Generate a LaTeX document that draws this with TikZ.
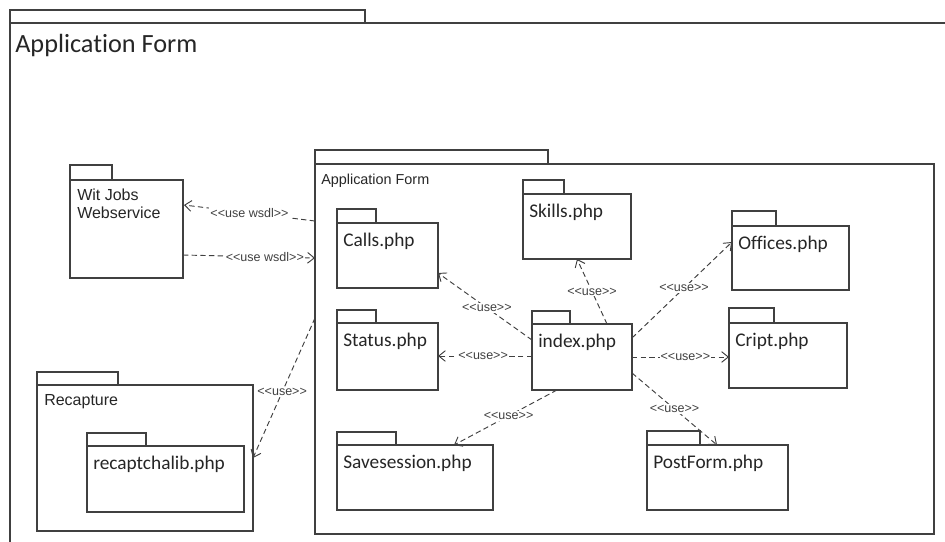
\documentclass[tikz,border=0pt]{standalone}
\usepackage{fontspec}
\setmainfont{Carlito}[Ligatures=NoCommon]
\newfontfamily\arialf{Liberation Sans}
\usetikzlibrary{arrows.meta,calc,fit}

% A UML package: tab rectangle plus a named body node and its title
% #1 name, #2 left x, #3 tab top, #4 tab right x, #5 body top, #6 right x, #7 bottom y, #8 title
\newcommand\umlpkg[8]{%
  \draw[pkgline] (#2,#3) rectangle (#4,#5);
  \node[pkgbody, fit={(#2,#5)(#6,#7)}] (#1) {};
  \node[pkgtext] at ($(#1.north west)+(6,23)$) {#8};
}

\begin{document}
\begin{tikzpicture}[x=0.75pt,y=-0.75pt,
  pkgline/.style={draw=black!75, line width=0.9pt},
  pkgbody/.style={pkgline, inner sep=0pt, outer sep=0pt},
  pkgtext/.style={anchor=base west, inner sep=0pt, text=black!85,
    font=\fontsize{14.5}{17}\selectfont},
  sanstext/.style={anchor=base west, inner sep=0pt, text=black!85,
    font=\arialf\fontsize{12}{13.5}\selectfont},
  usedep/.style={draw=black!75, line width=0.7pt, dash pattern=on 4pt off 2.5pt,
    -{Straight Barb[length=5pt,width=8pt]}},
  uselabel/.style={fill=white, inner sep=0.8pt, text=black!75,
    font=\arialf\fontsize{9.4}{10}\selectfont}]

\fill[white] (0,0) rectangle (945,542);
\useasboundingbox (0,0) rectangle (945,542);

% outer package frame (runs off the page to the right and bottom)
\draw[pkgline] (10,10) rectangle (365,23);
\draw[pkgline] (945,23) -- (10,23) -- (10,542);
\node[anchor=base west, inner sep=0pt, text=black!85,
  font=\fontsize{19.7}{22}\selectfont] (outertitle) at (15,53) {Application Form};

% inner Application Form package
\draw[pkgline] (315,150) rectangle (548,164);
\node[pkgbody, fit={(315,164)(934,534)}] (appf) {};
\node[sanstext, font=\arialf\fontsize{10.8}{12}\selectfont] (appftitle) at (321,184) {Application Form};

% Wit Jobs Webservice
\draw[pkgline] (70,165) rectangle (112,180);
\node[pkgbody, fit={(70,180)(183,278)}] (wit) {};
\node[sanstext] (wittitle) at (77,200) {Wit Jobs};
\node[sanstext] (wittitleb) at (77,218) {Webservice};

% Recapture with recaptchalib.php inside
\draw[pkgline] (37,372) rectangle (118,385);
\node[pkgbody, fit={(37,385)(253,531)}] (recap) {};
\node[sanstext] (recaptitle) at (44,405) {Recapture};
\umlpkg{recaptcha}{87}{433}{146}{446}{244}{512}{recaptchalib.php}

% the PHP files of the application
\umlpkg{calls}{337}{209}{376}{223}{438}{288}{Calls.php}
\umlpkg{status}{337}{310}{376}{323}{438}{390}{Status.php}
\umlpkg{skills}{523}{180}{564}{194}{631}{259}{Skills.php}
\umlpkg{index}{532}{311}{570}{324}{632}{390}{index.php}
\umlpkg{offices}{732}{211}{776}{226}{849}{290}{Offices.php}
\umlpkg{cript}{729}{308}{774}{323}{847}{388}{Cript.php}
\umlpkg{postform}{647}{431}{700}{445}{788}{510}{PostForm.php}
\umlpkg{savesession}{337}{432}{396}{445}{493}{510}{Savesession.php}

% dependencies
\draw[usedep] ($(appf.north west)+(0,57)$) -- node[uselabel, pos=0.5] {<{}<use wsdl>{}>} ($(wit.north east)+(1,25)$);
\draw[usedep] ($(wit.north east)+(0,75)$) -- node[uselabel, pos=0.62] {<{}<use wsdl>{}>} ($(appf.north west)+(0,94)$);
\draw[usedep] ($(appf.north west)+(0,154)$) -- ($(recap.north east)+(0,73)$)
  node[uselabel, pos=0.53] {<{}<use>{}>};

\draw[usedep] ($(index.north west)+(0,16)$) -- node[uselabel, pos=0.48] {<{}<use>{}>} ($(calls.north east)+(0,50)$);
\draw[usedep] ($(index.north west)+(0,32)$) -- node[uselabel, pos=0.52] {<{}<use>{}>} ($(status.north east)+(0,33)$);
\draw[usedep] ($(index.north west)+(75,0)$) -- node[uselabel, pos=0.5] {<{}<use>{}>} ($(skills.south west)+(54,0)$);
\draw[usedep] ($(index.north east)+(0,14)$) -- node[uselabel, pos=0.52] {<{}<use>{}>} ($(offices.north west)+(0,16)$);
\draw[usedep] ($(index.north east)+(0,33)$) -- node[uselabel, pos=0.55] {<{}<use>{}>} ($(cript.north west)+(0,34)$);
\draw[usedep] ($(index.north east)+(0,49)$) -- node[uselabel, pos=0.5] {<{}<use>{}>} ($(postform.north west)+(70,0)$);
\draw[usedep] ($(index.south west)+(25,0)$) -- node[uselabel, pos=0.47] {<{}<use>{}>} ($(savesession.north west)+(117,0)$);
\end{tikzpicture}
\end{document}
